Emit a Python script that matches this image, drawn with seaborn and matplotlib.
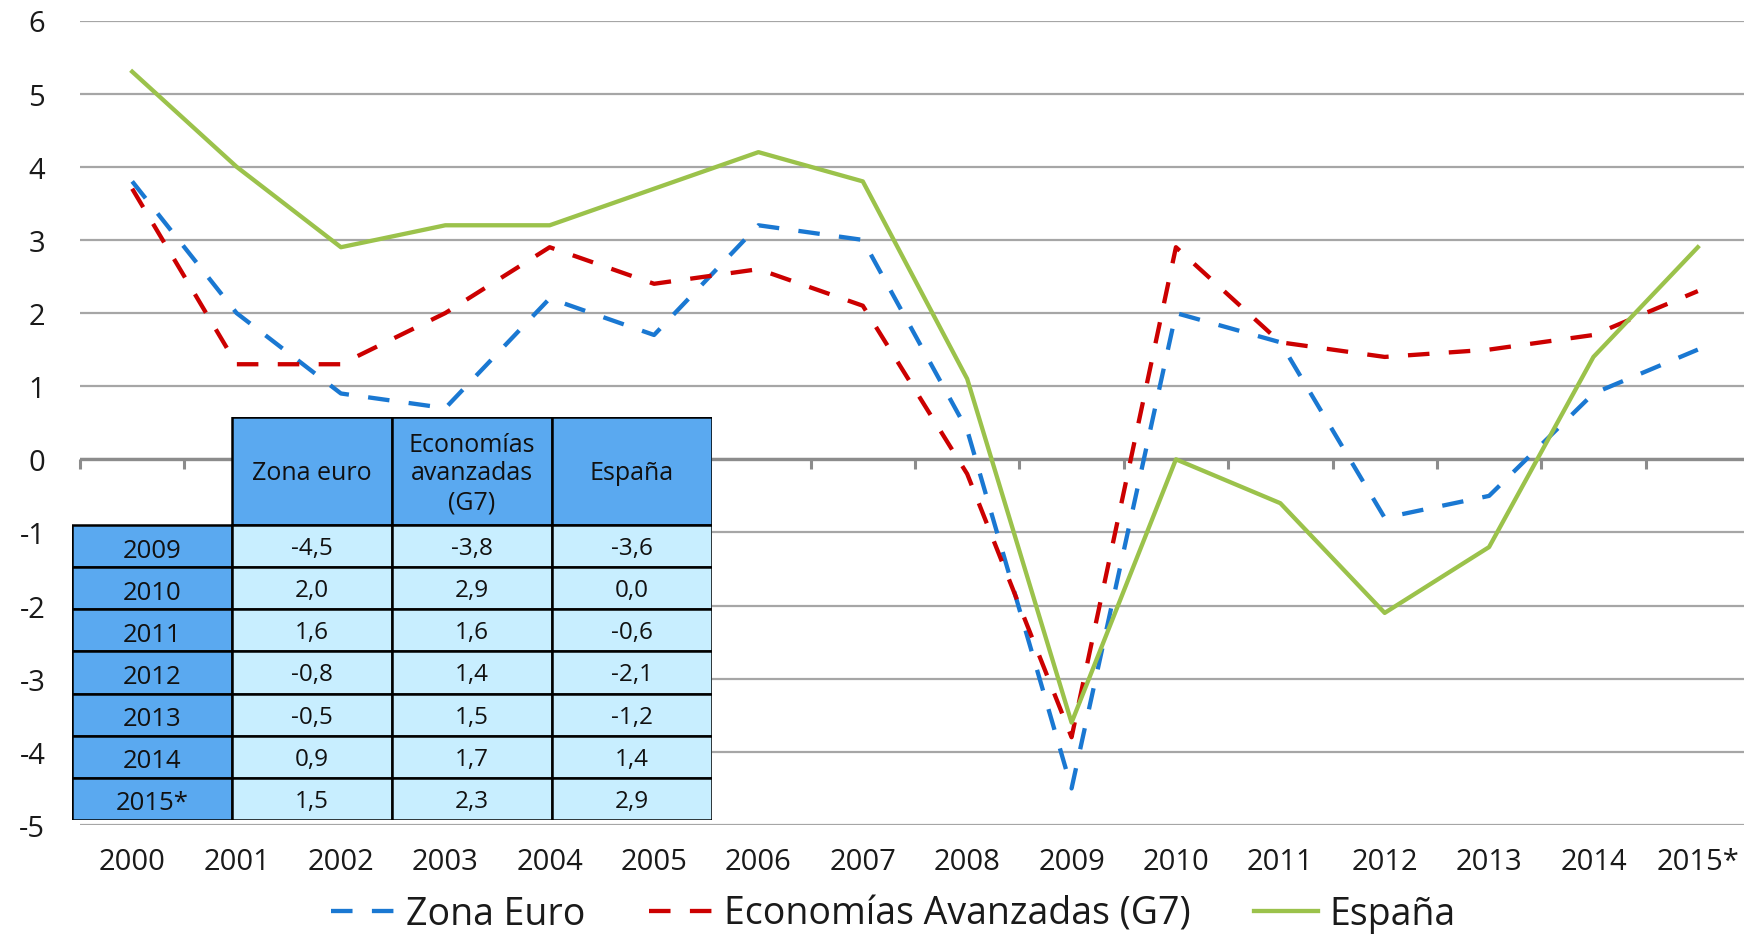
import numpy as np
import pandas as pd
import seaborn as sns
import matplotlib.pyplot as plt
from matplotlib.patches import Rectangle

plt.rcParams['font.family'] = ['Open Sans', 'DejaVu Sans']
plt.rcParams['axes.unicode_minus'] = False

# datos
years = ['2000', '2001', '2002', '2003', '2004', '2005', '2006', '2007',
         '2008', '2009', '2010', '2011', '2012', '2013', '2014', '2015*']
zona_euro = [3.8, 2.0, 0.9, 0.7, 2.2, 1.7, 3.2, 3.0, 0.4, -4.5, 2.0, 1.6, -0.8, -0.5, 0.9, 1.5]
g7 = [3.7, 1.3, 1.3, 2.0, 2.9, 2.4, 2.6, 2.1, -0.2, -3.8, 2.9, 1.6, 1.4, 1.5, 1.7, 2.3]
espana = [5.3, 4.0, 2.9, 3.2, 3.2, 3.7, 4.2, 3.8, 1.1, -3.6, 0.0, -0.6, -2.1, -1.2, 1.4, 2.9]

series = ['Zona Euro', 'Economías Avanzadas (G7)', 'España']
colores = {'Zona Euro': '#1A78D2', 'Economías Avanzadas (G7)': '#CC0000', 'España': '#9BC24B'}
dashes = {'Zona Euro': (5, 4.5), 'Economías Avanzadas (G7)': (5, 4.5), 'España': ''}

# tabla
tabla_cols = ['Zona euro', 'Economías\navanzadas\n(G7)', 'España']
tabla_desde = 9  # 2009 en adelante

df = pd.DataFrame({
    'pos': list(range(len(years))) * 3,
    'valor': zona_euro + g7 + espana,
    'serie': np.repeat(series, len(years)),
})

fig = plt.figure(figsize=(17.44, 9.37), dpi=100)
ax = fig.add_axes([80 / 1744, 1 - 826 / 937, 1670 / 1744, 804.5 / 937])

sns.lineplot(data=df, x='pos', y='valor', hue='serie', style='serie',
             palette=colores, dashes=dashes, linewidth=3.1, sort=False, ax=ax)
for ln in ax.lines:
    ln.set_dash_capstyle('butt')

ax.set_xlim(-0.5, 15.5)
ax.set_ylim(-5, 6)
ax.set_yticks(range(-5, 7))
ax.set_xticks(range(len(years)))
ax.set_xticklabels(years)
ax.set_xlabel('')
ax.set_ylabel('')
ax.yaxis.grid(True, color='#A6A6A6', lw=1.6)
ax.set_axisbelow(True)
for s in ax.spines.values():
    s.set_visible(False)
ax.tick_params(axis='x', length=0, pad=16, labelsize=21, labelcolor='#1a1a1a')
ax.tick_params(axis='y', length=0, pad=25, labelsize=21, labelcolor='#1a1a1a')

# eje en cero con marcas
ax.axhline(0, color='#8C8C8C', lw=2.4, zorder=1.5)
sec = ax.secondary_xaxis(5 / 11)
sec.set_xticks(np.arange(-0.5, len(years), 1))
sec.tick_params(bottom=True, direction='out', length=7, width=2.2,
                color='#8C8C8C', labelbottom=False, top=False, labeltop=False)
for s in sec.spines.values():
    s.set_visible(False)

# leyenda
handles, labels = ax.get_legend_handles_labels()
ax.legend_.remove()
fig.legend(handles, labels, loc='center', bbox_to_anchor=(0.512, 1 - 915 / 937),
           ncol=3, frameon=False, fontsize=27, handlelength=1.7,
           handletextpad=0.3, columnspacing=1.7, labelcolor='#1a1a1a',
           borderpad=0.1)

# tabla insertada
tax = fig.add_axes([72 / 1744, 1 - 821 / 937, 640 / 1744, 403 / 937])
tax.set_xlim(0, 640)
tax.set_ylim(403, 0)
tax.axis('off')
cw = 160
hh = 108
rh = (403 - hh) / (len(years) - tabla_desde)
azul = '#5AA9F0'
claro = '#C8EEFF'
for j, col in enumerate(tabla_cols):
    x0 = (j + 1) * cw
    tax.add_patch(Rectangle((x0, 0), cw, hh, facecolor=azul, edgecolor='black', lw=1.8))
    tax.text(x0 + cw / 2, hh / 2 + 2, col, ha='center', va='center', fontsize=18,
             linespacing=1.2, color='#111111')
valores = [zona_euro, g7, espana]
for i, yr in enumerate(years[tabla_desde:]):
    y0 = hh + i * rh
    tax.add_patch(Rectangle((0, y0), cw, rh, facecolor=azul, edgecolor='black', lw=1.8))
    tax.text(cw / 2, y0 + rh / 2 + 4, yr, ha='center', va='center', fontsize=18.5, color='#111111')
    for j, serie in enumerate(valores):
        v = serie[tabla_desde + i]
        x0 = (j + 1) * cw
        tax.add_patch(Rectangle((x0, y0), cw, rh, facecolor=claro, edgecolor='black', lw=1.8))
        tax.text(x0 + cw / 2, y0 + rh / 2 + 2, f'{v:.1f}'.replace('.', ','),
                 ha='center', va='center', fontsize=17.5, color='#111111')

fig.savefig('out.png', dpi=100)
